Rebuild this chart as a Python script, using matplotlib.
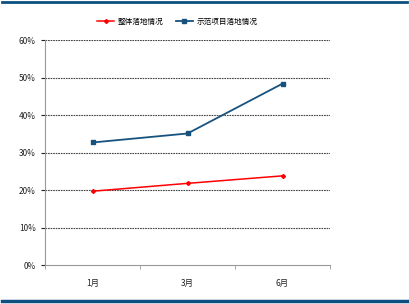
import matplotlib.pyplot as plt
from matplotlib.lines import Line2D

plt.rcParams['font.family'] = ['Noto Sans CJK SC', 'DejaVu Sans']

months = ["1月", "3月", "6月"]
overall = [19.7, 21.8, 23.8]
demo = [32.7, 35.1, 48.4]
labels = ["整体落地情况", "示范项目落地情况"]

fig = plt.figure(figsize=(4.09, 3.04), dpi=100)
ax = fig.add_axes([0.110, 0.128, 0.697, 0.740])

x = range(len(months))
ax.plot(x, overall, '-D', color='#ff0000', markersize=2, linewidth=1.1, label=labels[0])
ax.plot(x, demo, '-s', color='#17527f', markersize=3.5, linewidth=1.3, label=labels[1])

ax.set_xlim(-0.5, 2.5)
ax.set_ylim(0, 60)
ax.set_yticks(range(0, 61, 10))
ax.set_yticklabels([f"{v}%" for v in range(0, 61, 10)])
ax.set_xticks(x)
ax.set_xticklabels(months)
ax.set_xticks([-0.5, 0.5, 1.5, 2.5], minor=True)
ax.tick_params(axis='x', which='major', length=0, pad=10)
ax.tick_params(axis='x', which='minor', length=3, color='#999999')
ax.tick_params(axis='y', length=3, color='#999999')
ax.tick_params(labelsize=6, colors='#222222')

for v in range(10, 61, 10):
    ax.axhline(v, color='#444444', linestyle=(0, (1.5, 0.8)), linewidth=0.8, zorder=0)

for s in ['top', 'right']:
    ax.spines[s].set_visible(False)
for s in ['left', 'bottom']:
    ax.spines[s].set_color('#999999')

ax.legend(loc='center', bbox_to_anchor=(0.465, 1.08), ncol=2, frameon=False,
          fontsize=5.5, handlelength=2.2, handletextpad=0.5, columnspacing=1.6)

fig.add_artist(Line2D([0.005, 0.995], [0.995, 0.995], color='#0d4f80', linewidth=2))
fig.add_artist(Line2D([0.005, 0.995], [0.010, 0.010], color='#0d4f80', linewidth=2.5))

fig.savefig("out.png", dpi=100)
